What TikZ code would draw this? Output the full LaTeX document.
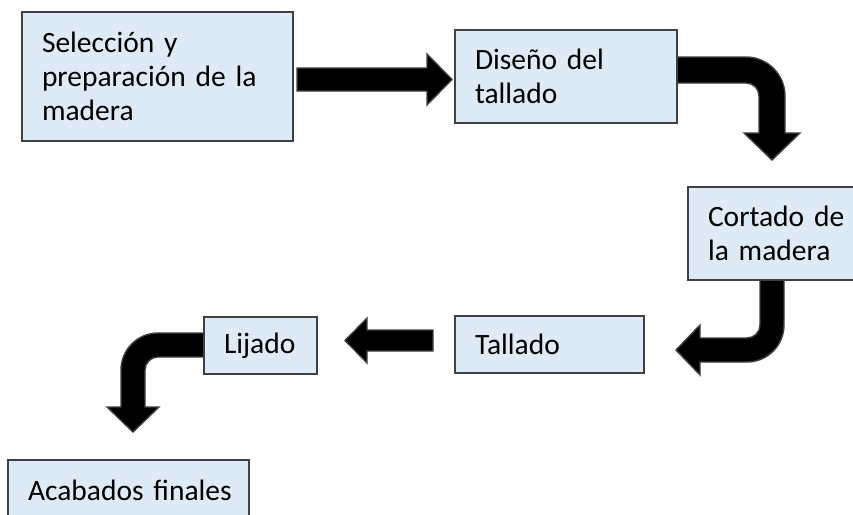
\documentclass[tikz,border=0pt]{standalone}
\usepackage{fontspec}
\setmainfont[WordSpace=0.8]{Carlito}
\definecolor{boxfill}{RGB}{222,235,247}
\definecolor{boxline}{RGB}{64,64,64}
\definecolor{arrline}{RGB}{64,64,64}
\begin{document}
\begin{tikzpicture}[x=1pt,y=1pt,
  box/.style={draw=boxline, fill=boxfill, line width=1.4pt, align=left,
    inner xsep=20pt, inner ysep=0pt, text=black,
    font=\fontsize{29.5}{34}\selectfont},
  blk/.style={fill=black, draw=arrline, line width=1.4pt, line join=miter}]
\useasboundingbox (0,0) rectangle (853,-514);
\clip (0,0) rectangle (853,-514);

% block arrows (drawn behind the boxes)
\path[blk] (297,-68) -- (427,-68) -- (427,-54) -- (452,-79.5) -- (427,-105)
  -- (427,-91) -- (297,-91) -- cycle;
\path[blk] (677,-57) -- (746,-57) arc[start angle=90,end angle=0,radius=39]
  -- (785,-133) -- (800,-133) -- (772,-160) -- (744,-133) -- (759,-133)
  -- (759,-96) arc[start angle=0,end angle=90,radius=13] -- (677,-83) -- cycle;
\path[blk] (760,-280) -- (784,-280) -- (784,-325) arc[start angle=0,end angle=-90,radius=37]
  -- (700,-362) -- (700,-375) -- (676,-350) -- (700,-325) -- (700,-338)
  -- (747,-338) arc[start angle=-90,end angle=0,radius=13] -- cycle;
\path[blk] (433,-330) -- (367,-330) -- (367,-318) -- (345,-340.5) -- (367,-363)
  -- (367,-351) -- (433,-351) -- cycle;
\path[blk] (204,-333) -- (158,-333) arc[start angle=90,end angle=180,radius=37]
  -- (121,-407) -- (107,-407) -- (133,-432) -- (159,-407) -- (145,-407)
  -- (145,-370) arc[start angle=180,end angle=90,radius=13] -- (204,-357) -- cycle;

% boxes
\node[box, minimum width=271pt, minimum height=129pt, text width=231pt] (b1)
  at (157.5,-76.5) {Selección y\\preparación de la\\madera};
\node[box, minimum width=222pt, minimum height=93pt, text width=182pt] (b2)
  at (566,-76.5) {Diseño del\\tallado};
\node[box, minimum width=192pt, minimum height=93pt, text width=152pt] (b3)
  at (784,-233.5) {Cortado de\\la madera};
\node[box, minimum width=189pt, minimum height=57pt, text width=149pt] (b4)
  at (549.5,-344.5) {Tallado};
\node[box, minimum width=113pt, minimum height=57pt, text width=73pt] (b5)
  at (260.5,-345.5) {\mbox{Lijado}};
\node[box, minimum width=241pt, minimum height=60pt, text width=201pt] (b6)
  at (128.5,-490) {\mbox{Acabados finales}};
\end{tikzpicture}
\end{document}
